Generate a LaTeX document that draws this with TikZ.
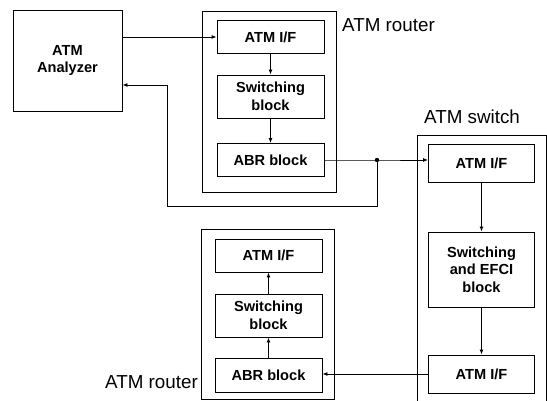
\documentclass[tikz,border=0pt]{standalone}
\usepackage{fontspec}
\setmainfont{Liberation Sans}
\usetikzlibrary{arrows.meta,calc}
\begin{document}
\begin{tikzpicture}[x=1pt,y=-1pt,
  blk/.style={draw,line width=0.9pt,inner sep=0pt,align=center,font=\fontsize{14.6}{17.5}\selectfont\bfseries},
  outer/.style={draw,line width=0.9pt,inner sep=0pt},
  lbl/.style={font=\fontsize{18.8}{21}\selectfont,inner sep=0pt},
  conn/.style={line width=0.9pt},
  arr/.style={line width=0.9pt,-{Latex[length=5pt,width=4pt]}}]
\useasboundingbox (0,0) rectangle (547,401);
% analyzer
\node[blk,minimum width=109pt,minimum height=101pt] (an) at (67.5,60.5) {ATM\\Analyzer};
% router 1
\node[outer,minimum width=134pt,minimum height=181pt] (r1) at (269,101.5) {};
\node[blk,minimum width=107pt,minimum height=33pt] (r1if) at (270.5,37) {ATM I/F};
\node[blk,minimum width=107pt,minimum height=43pt] (r1sw) at (270.5,96.5) {Switching\\block};
\node[blk,minimum width=107pt,minimum height=33pt] (r1abr) at (270.5,160) {ABR block};
\node[lbl,anchor=base west] (l1) at (342,32) {ATM router};
% switch
\draw[conn] (417,401) -- (417,135) -- (546,135) -- (546,401);
\node[lbl,anchor=base west] (l2) at (424,124) {ATM switch};
\node[blk,minimum width=106pt,minimum height=38pt] (sif1) at (481.5,163) {ATM I/F};
\node[blk,minimum width=106pt,minimum height=75pt] (sefci) at (481.5,269.5) {Switching\\and EFCI\\block};
\node[blk,minimum width=106pt,minimum height=38pt] (sif2) at (481.5,374) {ATM I/F};
% router 2
\node[outer,minimum width=133pt,minimum height=170pt] (r2) at (267.5,314) {};
\node[blk,minimum width=107pt,minimum height=33pt] (r2if) at (268.5,255.5) {ATM I/F};
\node[blk,minimum width=107pt,minimum height=43pt] (r2sw) at (268.5,315.5) {Switching\\block};
\node[blk,minimum width=107pt,minimum height=34pt] (r2abr) at (268.5,375) {ABR block};
\node[lbl,anchor=base east] (l3) at (198,388) {ATM router};
% connectors
\draw[arr] (an.east |- r1if.west) -- (r1if.west);
\draw[arr] (r1if) -- (r1sw);
\draw[arr] (r1sw) -- (r1abr);
\coordinate (junc) at (377,160);
\coordinate (bl) at (167,206);
\coordinate (ret) at (167,85);
\draw[arr] (r1abr.east) -- (junc) -- (junc -| sif1.west);
\fill (junc) circle (2.2pt);
\draw[arr] (junc) |- (bl) -- (ret) -- (ret -| an.east);
\draw[arr] (sif1) -- (sefci);
\draw[arr] (sefci) -- (sif2);
\draw[arr] (sif2.west) -- (sif2.west -| r2abr.east);
\draw[arr] (r2abr) -- (r2sw);
\draw[arr] (r2sw) -- (r2if);
\end{tikzpicture}
\end{document}
